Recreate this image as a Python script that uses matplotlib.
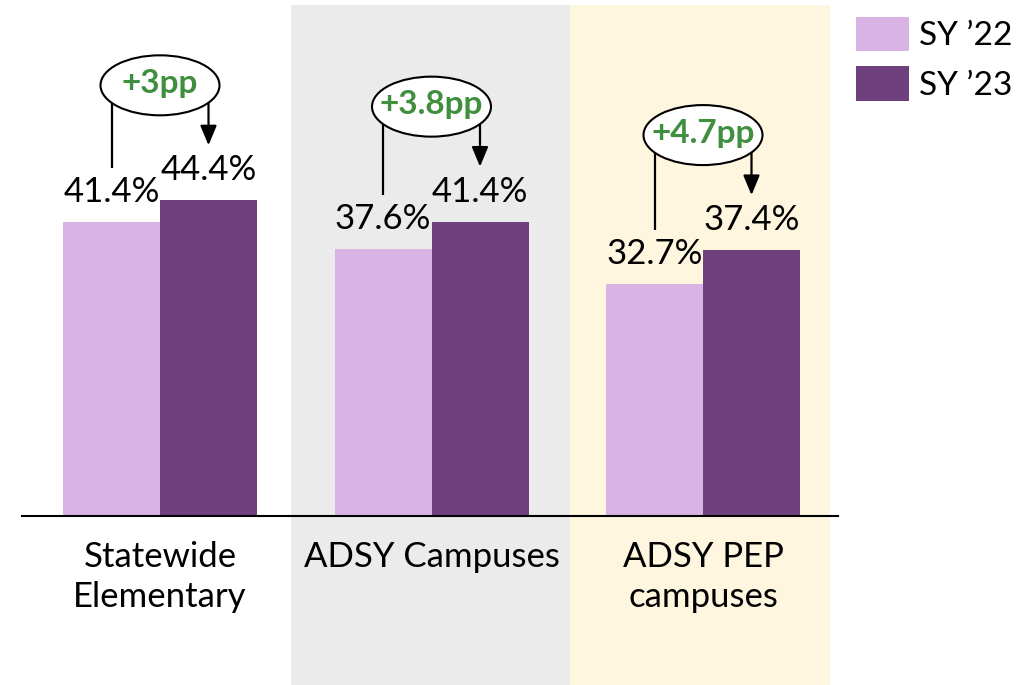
import matplotlib
matplotlib.use("Agg")
import matplotlib.pyplot as plt
from matplotlib.patches import Ellipse, Rectangle
import matplotlib.transforms as mtransforms
import numpy as np

categories = ["Statewide\nElementary", "ADSY Campuses", "ADSY PEP\ncampuses"]
sy22 = [41.4, 37.6, 32.7]
sy23 = [44.4, 41.4, 37.4]
series_names = ["SY \u201922", "SY \u201923"]
changes = ["+3pp", "+3.8pp", "+4.7pp"]

LIGHT = "#D9B3E4"
DARK = "#6E407E"
GRAY = "#EBEBEB"
CREAM = "#FFF6E0"
GREEN = "#3F8F3F"
FONT = "Lato"

W, H = 1033, 685
fig = plt.figure(figsize=(W / 100, H / 100), dpi=100)

# axes geometry in pixels
ax_left, ax_right = 22, 838
base_y, top_y = 516, 5
ax = fig.add_axes([ax_left / W, (H - base_y) / H, (ax_right - ax_left) / W, (base_y - top_y) / H])
ax.set_facecolor("none")
ax.set_zorder(1)

group_px = 271.5
center0 = 160
xlim = ((ax_left - center0) / group_px, (ax_right - center0) / group_px)
px_per_unit_y = 7.11
ylim = (0, (base_y - top_y) / px_per_unit_y)
ax.set_xlim(*xlim)
ax.set_ylim(*ylim)

def px_x(p):
    return p / group_px

def px_y(p):
    return p / px_per_unit_y

x = np.arange(len(categories))
bw = px_x(97)

# background shading (data x, figure y)
trans = mtransforms.blended_transform_factory(ax.transData, fig.transFigure)
for (x0, x1, col) in [(0.482, 1.51, GRAY), (1.51, 2.468, CREAM)]:
    fig.patches.append(Rectangle((x0, 0), x1 - x0, 1 - top_y / H, transform=trans,
                                 facecolor=col, edgecolor="none", zorder=-5))

b1 = ax.bar(x - bw / 2, sy22, width=bw, color=LIGHT, zorder=2, label=series_names[0])
b2 = ax.bar(x + bw / 2, sy23, width=bw, color=DARK, zorder=2, label=series_names[1])

for xi, v in zip(x - bw / 2, sy22):
    ax.text(xi, v + px_y(14), f"{v:.1f}%", ha="center", va="bottom", fontsize=25,
            family=FONT, color="black", zorder=5)
for xi, v in zip(x + bw / 2, sy23):
    ax.text(xi, v + px_y(14), f"{v:.1f}%", ha="center", va="bottom", fontsize=25,
            family=FONT, color="black", zorder=5)

# change annotations
for i in range(len(categories)):
    lx = x[i] - bw / 2
    rx = x[i] + bw / 2
    ecy = sy23[i] + px_y(115)
    ecx = x[i]
    ax.plot([lx, lx], [sy22[i] + px_y(54), ecy], color="black", lw=1.6, zorder=3,
            solid_capstyle="butt")
    ax.annotate("", xy=(rx, sy23[i] + px_y(55)), xytext=(rx, ecy),
                arrowprops=dict(arrowstyle="-|>,head_length=1.2,head_width=0.5",
                                color="black", lw=1.6, shrinkA=0, shrinkB=0),
                zorder=3)
    ax.add_patch(Ellipse((ecx, ecy), px_x(119), px_y(60), facecolor="white",
                         edgecolor="black", lw=1.5, zorder=4))
    ax.text(ecx, ecy + px_y(2), changes[i], ha="center", va="center", fontsize=24,
            fontweight="bold", family=FONT, color=GREEN, zorder=5)

# axis styling
for s in ["top", "right", "left"]:
    ax.spines[s].set_visible(False)
ax.spines["bottom"].set_color("black")
ax.spines["bottom"].set_linewidth(1.5)
ax.spines["bottom"].set_zorder(6)
ax.set_yticks([])
ax.set_xticks(x)
ax.set_xticklabels(categories, fontsize=25, family=FONT, linespacing=1.3, va="top")
ax.tick_params(axis="x", length=0, pad=18)

leg = fig.legend(handles=[b1, b2], labels=series_names, loc="upper left",
                 bbox_to_anchor=(856 / W, 1 - 17 / H), frameon=False,
                 prop={"family": FONT, "size": 24}, handlelength=1.6, handleheight=1.2,
                 handletextpad=0.3, labelspacing=0.45, borderaxespad=0, borderpad=0)

fig.savefig("out.png", dpi=100)
